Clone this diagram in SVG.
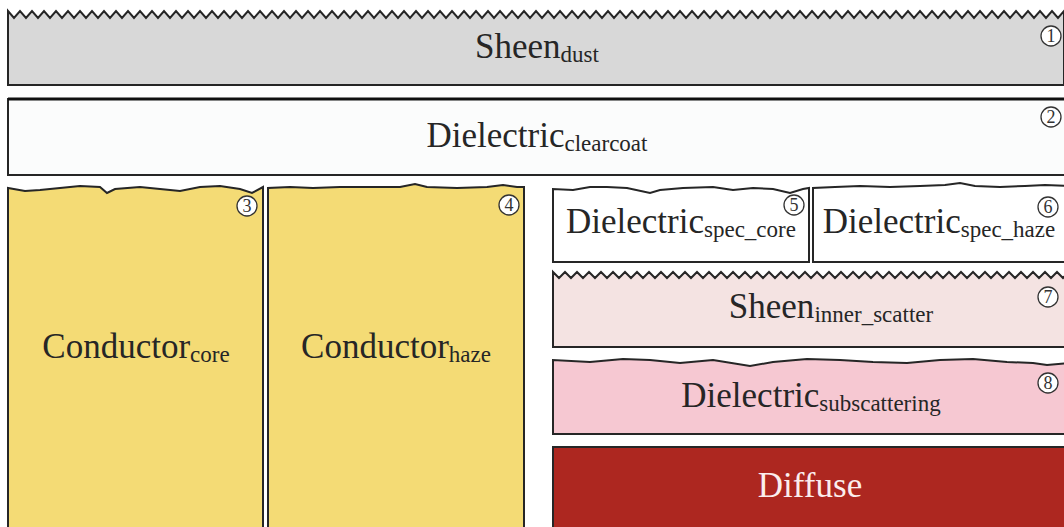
<svg xmlns="http://www.w3.org/2000/svg" width="1064" height="527" viewBox="0 0 1064 527">
<style>
.box{stroke:#262626;stroke-width:2;stroke-linejoin:miter}
.t{fill:#262626;text-anchor:middle}
.m{font-size:35px}
.s{font-size:23px}
.n circle{fill:#ffffff;stroke:#333;stroke-width:1.3}
.n text{font-size:18px;fill:#333;text-anchor:middle}
</style>
<rect width="1064" height="527" fill="#ffffff"/>
<g id="connectors"/>
<g font-family="'Liberation Serif', 'DejaVu Serif', serif">
<g id="sheen_dust">
<path class="box" fill="#d8d8d8" d="M8 85 V11 l6 7 6-7 6 7 6-7 6 7 6-7 6 7 6-7 6 7 6-7 6 7 6-7 6 7 6-7 6 7 6-7 6 7 6-7 6 7 6-7 6 7 6-7 6 7 6-7 6 7 6-7 6 7 6-7 6 7 6-7 6 7 6-7 6 7 6-7 6 7 6-7 6 7 6-7 6 7 6-7 6 7 6-7 6 7 6-7 6 7 6-7 6 7 6-7 6 7 6-7 6 7 6-7 6 7 6-7 6 7 6-7 6 7 6-7 6 7 6-7 6 7 6-7 6 7 6-7 6 7 6-7 6 7 6-7 6 7 6-7 6 7 6-7 6 7 6-7 6 7 6-7 6 7 6-7 6 7 6-7 6 7 6-7 6 7 6-7 6 7 6-7 6 7 6-7 6 7 6-7 6 7 6-7 6 7 6-7 6 7 6-7 6 7 6-7 6 7 6-7 6 7 6-7 6 7 6-7 6 7 6-7 6 7 6-7 6 7 6-7 6 7 6-7 6 7 6-7 6 7 6-7 6 7 6-7 6 7 6-7 6 7 6-7 6 7 6-7 6 7 6-7 6 7 6-7 6 7 6-7 6 7 6-7 6 7 6-7 6 7 6-7 6 7 6-7 6 7 6-7 6 7 6-7 6 7 6-7 6 7 6-7 6 7 6-7 6 7 6-7 6 7 6-7 6 7 6-7 6 7 6-7 6 7 6-7 6 7 6-7 6 7 6-7 6 7 6-7 6 7 6-7 6 7 6-7 6 7 6-7 6 7 6-7 6 7 6-7 6 7 6-7 V85 Z"/>
<text class="t" x="537" y="58"><tspan class="m">Sheen</tspan><tspan class="s" dy="4">dust</tspan></text>
<g class="n"><circle cx="1051" cy="36" r="10"/><text x="1051" y="42">1</text></g>
</g>
<g id="dielectric_clearcoat">
<rect class="box" fill="#fbfcfc" x="8" y="99" width="1070" height="76"/>
<line x1="8" y1="99" x2="1070" y2="99" stroke="#111" stroke-width="3"/>
<text class="t" x="537" y="147"><tspan class="m">Dielectric</tspan><tspan class="s" dy="4">clearcoat</tspan></text>
<g class="n"><circle cx="1051" cy="117" r="10"/><text x="1051" y="123">2</text></g>
</g>
<g id="conductor_core">
<path class="box" fill="#f4db75" d="M8 540 V188 L25 191 40 190 60 188 80 186 100 187 107 193 115 189 140 187 160 189 180 191 200 187 220 186 240 189 252 193 263 187 V540 Z"/>
<text class="t" x="136" y="358"><tspan class="m">Conductor</tspan><tspan class="s" dy="4">core</tspan></text>
<g class="n"><circle cx="247" cy="206" r="10"/><text x="247" y="212">3</text></g>
</g>
<g id="conductor_haze">
<path class="box" fill="#f4db75" d="M268 540 V188 L290 187 313 188 340 187 373 187 400 187 415 184 427 187 457 188 487 187 503 185 517 187 524 187 V540 Z"/>
<text class="t" x="396" y="358"><tspan class="m">Conductor</tspan><tspan class="s" dy="4">haze</tspan></text>
<g class="n"><circle cx="509" cy="205" r="10"/><text x="509" y="211">4</text></g>
</g>
<g id="dielectric_spec_core">
<path class="box" fill="#ffffff" d="M553 262 V189 L573 190 590 187 607 187 627 188 650 193 660 190 683 188 713 187 733 190 753 188 773 189 790 193 803 189 809 188 V262 Z"/>
<text class="t" x="681" y="233"><tspan class="m">Dielectric</tspan><tspan class="s" dy="4">spec_core</tspan></text>
<g class="n"><circle cx="794" cy="205" r="10"/><text x="794" y="211">5</text></g>
</g>
<g id="dielectric_spec_haze">
<path class="box" fill="#ffffff" d="M813 262 V188 L835 187 860 186 890 187 920 186 945 185 960 183 975 186 1000 187 1025 186 1045 185 1070 186 V262 Z"/>
<text class="t" x="939" y="233"><tspan class="m">Dielectric</tspan><tspan class="s" dy="4">spec_haze</tspan></text>
<g class="n"><circle cx="1048" cy="207" r="10"/><text x="1048" y="213">6</text></g>
</g>
<g id="sheen_inner_scatter">
<path class="box" fill="#f4e3e2" d="M553 347 V272 l6 6 6-6 6 6 6-6 6 6 6-6 6 6 6-6 6 6 6-6 6 6 6-6 6 6 6-6 6 6 6-6 6 6 6-6 6 6 6-6 6 6 6-6 6 6 6-6 6 6 6-6 6 6 6-6 6 6 6-6 6 6 6-6 6 6 6-6 6 6 6-6 6 6 6-6 6 6 6-6 6 6 6-6 6 6 6-6 6 6 6-6 6 6 6-6 6 6 6-6 6 6 6-6 6 6 6-6 6 6 6-6 6 6 6-6 6 6 6-6 6 6 6-6 6 6 6-6 6 6 6-6 6 6 6-6 6 6 6-6 6 6 6-6 6 6 6-6 6 6 6-6 6 6 6-6 6 6 6-6 6 6 6-6 6 6 6-6 6 6 6-6 6 6 6-6 6 6 6-6 6 6 6-6 6 6 6-6 6 6 6-6 V347 Z"/>
<text class="t" x="831" y="318"><tspan class="m">Sheen</tspan><tspan class="s" dy="4">inner_scatter</tspan></text>
<g class="n"><circle cx="1048" cy="297" r="10"/><text x="1048" y="303">7</text></g>
</g>
<g id="dielectric_subscattering">
<path class="box" fill="#f6c8d2" d="M553 434 V360 L590 362 623 359 650 360 680 363 713 360 750 366 773 362 807 359 840 360 873 362 907 363 940 360 973 359 1007 362 1033 363 1047 365 1070 363 V434 Z"/>
<text class="t" x="811" y="407"><tspan class="m">Dielectric</tspan><tspan class="s" dy="4">subscattering</tspan></text>
<g class="n"><circle cx="1048" cy="383" r="10"/><text x="1048" y="389">8</text></g>
</g>
<g id="diffuse">
<rect class="box" fill="#ad2720" x="553" y="447" width="520" height="100"/>
<text class="t m" x="810" y="497" fill="#fbeeee" style="fill:#fbeeee">Diffuse</text>
</g>
</g>
</svg>
